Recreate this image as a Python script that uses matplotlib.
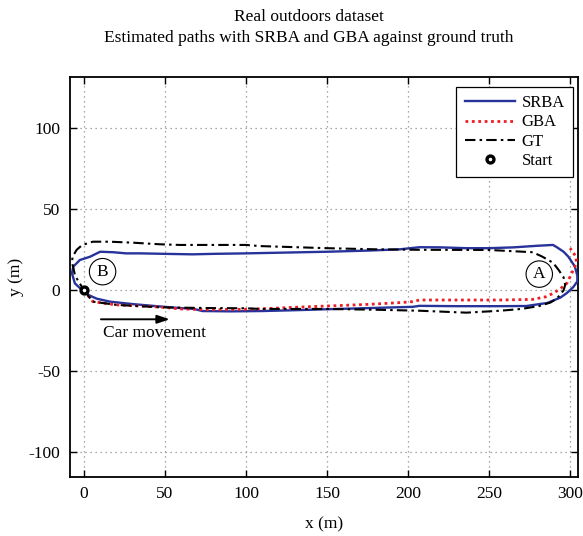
import numpy as np
import matplotlib.pyplot as plt

plt.rcParams['font.family'] = ['Liberation Serif', 'DejaVu Serif']
plt.rcParams['font.size'] = 12.5
plt.rcParams['mathtext.fontset'] = 'stix'

# Estimated trajectories (m), starting at the origin
srba_x = [0, 3, 8, 16, 30, 47, 60, 68, 73, 90, 110, 130, 150, 175, 203, 207, 230,
          255, 273, 286, 294, 298, 302, 304.5, 304.5, 303, 299, 296, 292, 289.5,
          280, 265, 250, 236, 220, 207, 195, 175, 150, 125, 100, 80, 67, 50, 35,
          26, 18, 10, 3.7, -2.5, -6.6, -7.4, -5.6, -2.5, 0]
srba_y = [0, -3, -5.2, -7, -8.5, -10, -11, -11.5, -12.8, -13, -12.8, -12.3, -11.7,
          -11, -10.2, -9.6, -9.8, -9.8, -9.7, -7.8, -4.5, -1.7, 2, 5.5, 9, 14.6,
          20.7, 23.8, 26.5, 28, 27.5, 26.5, 26, 26, 26.5, 26.6, 25.3, 24.5, 23.8,
          23.3, 22.8, 22.5, 22.2, 22.5, 22.8, 22.8, 23.5, 23.8, 20.7, 18.7, 14.6,
          10.5, 4.3, 1.4, 0]

gba_x = [0, 5.5, 20, 47, 59, 78, 100, 108, 130, 150, 175, 195, 203, 205, 207, 230,
         257, 277, 285, 289.5, 294, 298, 302, 304, 303.5, 300]
gba_y = [0, -7, -9, -10.3, -11.5, -12, -11.7, -11.5, -10.5, -9.7, -8.7, -7.6, -7,
         -6.5, -6, -6, -6, -5.6, -4, -1.9, 1, 4.3, 12.5, 17, 21, 26]

gt_x = [0, 5.5, 20, 47, 59, 80, 100, 108.6, 150, 180, 207, 236, 257, 270, 281, 288,
        292, 296, 297, 296, 293, 289.5, 283, 277, 250, 207, 180, 150, 108.6, 100,
        59, 47, 30, 16, 5.5, -1, -4.5, -7, -7.4, -6.5, -5.5, -3, 0]
gt_y = [0, -7, -9, -10.5, -10.7, -11, -11.1, -11.5, -11.5, -12, -12.6, -13.8, -12.6,
        -11.5, -9.7, -7.5, -5, 0, 3.3, 8, 12.5, 17, 20.7, 23.5, 24.9, 25, 25.3,
        26, 27.3, 28, 28, 28.4, 29.4, 30, 30, 28, 25, 20.7, 17, 13.8, 9, 5, 0]

start = (0, 0)

W, H = 583, 536
fig = plt.figure(figsize=(W / 100, H / 100), dpi=100)
ax = fig.add_axes([70 / W, 1 - 476.7 / H, 508 / W, 400 / H])

ax.plot(srba_x, srba_y, color='#27339a', lw=1.7, label='SRBA', zorder=3)
ax.plot(gba_x, gba_y, color='#ee1c24', lw=2, ls=(0, (1, 1.3)), label='GBA', zorder=4)
ax.plot(gt_x, gt_y, color='black', lw=1.5, ls=(0, (5, 2, 1.2, 2)), label='GT', zorder=5)
ax.plot(*start, 'o', ms=5, mfc='white', mec='black', mew=2.4, ls='none',
        label='Start', zorder=6)

# end-point markers of the loop
for lbl, px, py in [('B', 11.5, 11.5), ('A', 281, 10)]:
    ax.text(px, py, lbl, ha='center', va='center', fontsize=12.5,
            bbox=dict(boxstyle='circle,pad=0.3', fc='none', ec='black', lw=0.8))

ax.annotate('', xy=(53, -17.9), xytext=(10.5, -17.9),
            arrowprops=dict(arrowstyle='-|>,head_length=0.6,head_width=0.2',
                            color='black', lw=1.4, shrinkA=0, shrinkB=0))
ax.text(11.5, -26.5, 'Car movement', ha='left', va='center', fontsize=12.5)

ax.set_xlim(-8.6, 304.9)
ax.set_ylim(-115.06, 131.85)
ax.set_xticks(np.arange(0, 301, 50))
ax.set_yticks(np.arange(-100, 101, 50))
ax.set_yticklabels(['-100', '-50', '0', '50', '100'])
ax.tick_params(direction='in', length=5, width=1, top=True, right=True, pad=7)
ax.grid(True, ls=(0, (1, 3)), color='0.55', lw=0.9)
for s in ax.spines.values():
    s.set_linewidth(1.3)

ax.set_xlabel('x (m)', labelpad=10)
ax.set_ylabel('y (m)', labelpad=3)

fig.text(309 / W, 1 - 17 / H, 'Real outdoors dataset', ha='center', va='center')
fig.text(309 / W, 1 - 38 / H, 'Estimated paths with SRBA and GBA against ground truth',
         ha='center', va='center')

leg = ax.legend(loc='upper right', bbox_to_anchor=(573 / W, 1 - 86.7 / H),
                bbox_transform=fig.transFigure, borderaxespad=0, fancybox=False,
                edgecolor='black', framealpha=1, fontsize=12, numpoints=1,
                handlelength=3.0, labelspacing=0.2, handletextpad=0.4,
                borderpad=0.5)
leg.get_frame().set_linewidth(0.9)

fig.savefig('out.png', dpi=100)
